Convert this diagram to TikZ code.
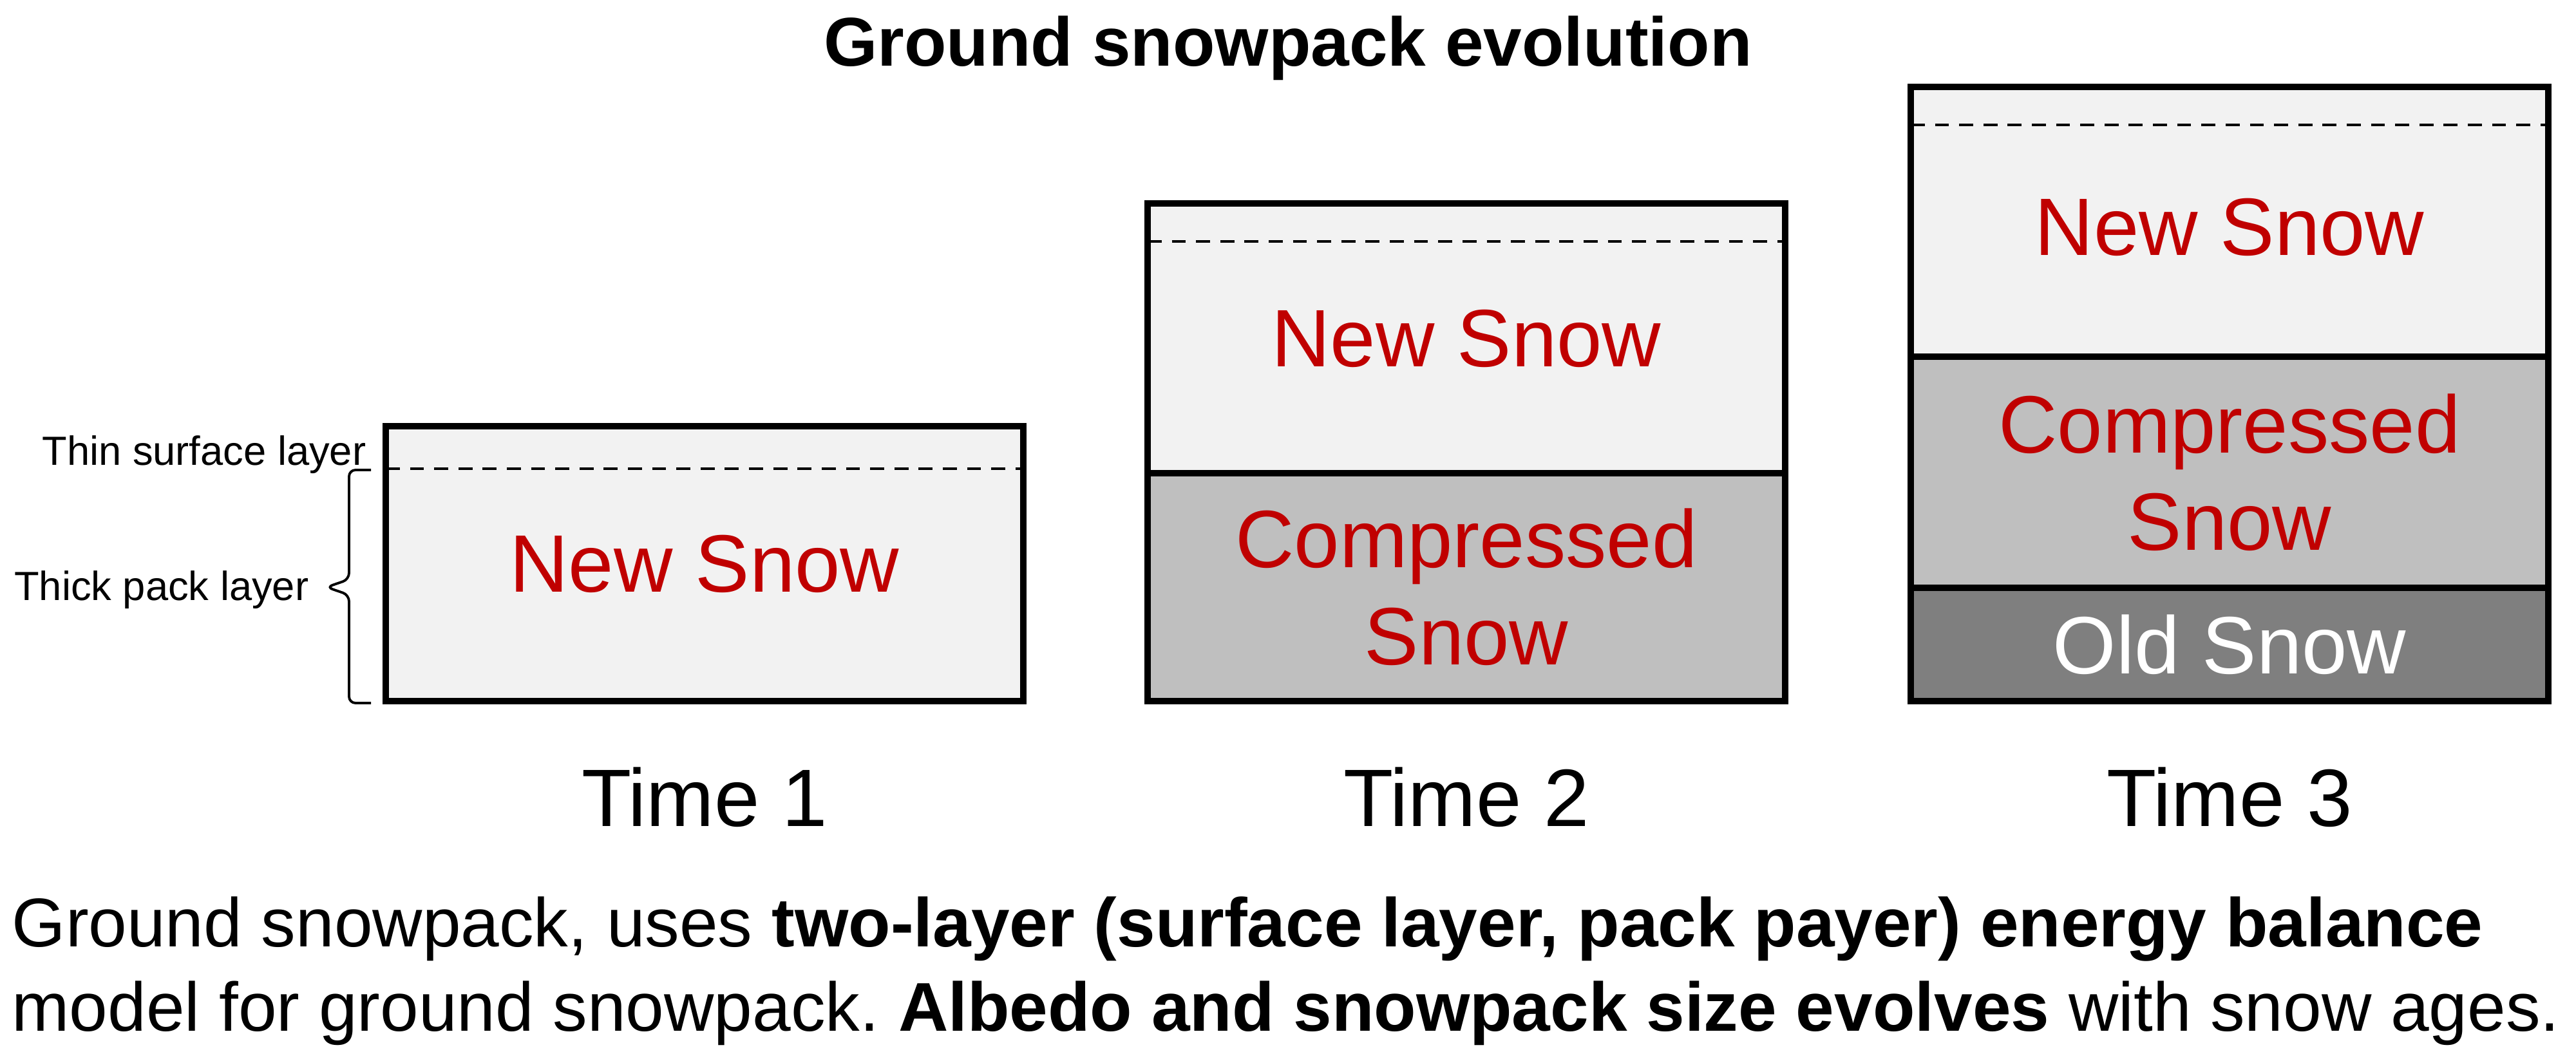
\documentclass[tikz,border=0pt]{standalone}
\usepackage{fontspec}
\setmainfont{Liberation Sans}
\usetikzlibrary{positioning}
\definecolor{newsnow}{HTML}{F2F2F2}
\definecolor{compsnow}{HTML}{BFBFBF}
\definecolor{oldsnow}{HTML}{7F7F7F}
\definecolor{snowred}{HTML}{C00000}
\frenchspacing

\begin{document}
\begin{tikzpicture}[
    layer/.style={rectangle, draw=black, line width=2.85pt, outer sep=0pt,
                  inner sep=0pt, minimum width=9.9cm,
                  font=\fontsize{36}{43}\selectfont, text=snowred, align=center},
    newlayer/.style={layer, fill=newsnow},
    complayer/.style={layer, fill=compsnow},
    oldlayer/.style={layer, fill=oldsnow, text=white},
    timetxt/.style={font=\fontsize{36}{43}\selectfont, anchor=base},
    sidetxt/.style={font=\fontsize{18}{22}\selectfont, anchor=base east, inner sep=0pt},
    captxt/.style={font=\fontsize{30.5}{37}\selectfont, anchor=base west, inner sep=0pt},
    surf/.style={dash pattern=on 6.2pt off 4.5pt, line width=1.3pt},
    bracket/.style={line width=1.1pt, rounded corners=0.1cm},
]
\useasboundingbox (0,0) rectangle (40,16.47);

%% -- Title --------------------------------------------------------------
\node[font=\fontsize{30.5}{37}\selectfont\bfseries, anchor=base] (title) at (20.0,15.44)
     {Ground snowpack evolution};

%% -- Time 1 -------------------------------------------------------------
\node[newlayer, minimum height=4.27cm, anchor=south] (t1new) at (10.94,5.58) {New Snow};
\draw[surf] ([yshift=-0.66cm]t1new.north west) -- ([yshift=-0.66cm]t1new.north east);

%% -- Time 2 -------------------------------------------------------------
\node[complayer, minimum height=3.54cm, anchor=south] (t2comp) at (22.77,5.58) {Compressed\\Snow};
\node[newlayer, minimum height=4.19cm, above=0pt of t2comp] (t2new) {New Snow};
\draw[surf] ([yshift=-0.59cm]t2new.north west) -- ([yshift=-0.59cm]t2new.north east);

%% -- Time 3 -------------------------------------------------------------
\node[oldlayer, minimum height=1.76cm, anchor=south] (t3old) at (34.62,5.58) {Old Snow};
\node[complayer, minimum height=3.59cm, above=0pt of t3old] (t3comp) {Compressed\\Snow};
\node[newlayer, minimum height=4.19cm, text height=30pt, above=0pt of t3comp] (t3new) {New Snow};
\draw[surf] ([yshift=-0.59cm]t3new.north west) -- ([yshift=-0.59cm]t3new.north east);

%% -- Time labels --------------------------------------------------------
\node[timetxt] (time1) at (t1new |- 0,3.64) {Time 1};
\node[timetxt] (time2) at (t2comp |- 0,3.64) {Time 2};
\node[timetxt] (time3) at (t3old |- 0,3.64) {Time 3};

%% -- Layer annotations --------------------------------------------------
\node[sidetxt] (thin)  at (5.69,9.24) {Thin surface layer};
\node[sidetxt] (thick) at (4.80,7.15) {Thick pack layer};
\draw[bracket] (5.76,9.17) -- (5.42,9.17) -- (5.42,7.47) -- (5.07,7.35)
               -- (5.42,7.23) -- (5.42,5.55) -- (5.76,5.55);

%% -- Caption ------------------------------------------------------------
\node[captxt] (cap1) at (0.18,1.77)
     {Ground snowpack, uses \textbf{two-layer (surface layer, pack payer) energy balance}};
\node[captxt] (cap2) at (0.18,0.46)
     {model for ground snowpack. \textbf{Albedo and snowpack size evolves} with snow ages.};

\end{tikzpicture}
\end{document}
